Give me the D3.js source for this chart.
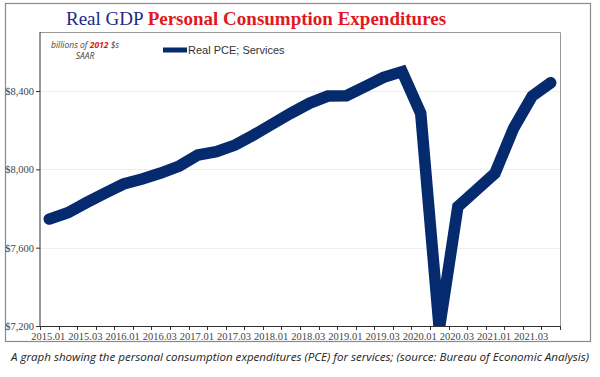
<!DOCTYPE html>
<html>
<head>
<meta charset="utf-8">
<script src="https://cdn.jsdelivr.net/npm/d3@7"></script>
<style>
  body { margin: 0; background: #fff; }
  svg { display: block; }
</style>
</head>
<body>
<svg id="chart" width="600" height="377"></svg>
<script>
// Quarterly categories, 2015 Q1 .. 2021 Q4
const years = ["2015", "2016", "2017", "2018", "2019", "2020", "2021"];
const quarters = ["01", "02", "03", "04"];
const categories = years.flatMap((y) => quarters.map((q) => `${y}.${q}`));

// Real PCE, services (billions of 2012 $s, SAAR)
const pceServices = [
  7746, 7778, 7830, 7879, 7925, 7951, 7981, 8017,
  8073, 8090, 8124, 8175, 8231, 8286, 8337, 8374,
  8376, 8422, 8470, 8499, 8286, 7185, 7809, 7894,
  7980, 8209, 8374, 8442
];

const yTicks = [7200, 7600, 8000, 8400];

const svg = d3.select("#chart");

// plot area
const plot = { left: 40, right: 560, top: 32, bottom: 326 };

const x = d3
  .scaleBand()
  .domain(categories)
  .range([plot.left, plot.right])
  .padding(0);

const y = d3.scaleLinear().domain([7200, 8400]).range([326, 91]);

// outer frame
svg
  .append("rect")
  .attr("x", 5.5)
  .attr("y", 3.5)
  .attr("width", 585)
  .attr("height", 338)
  .attr("fill", "#fff")
  .attr("stroke", "#8a8a8a")
  .attr("stroke-width", 1.2);

// plot area border (top / right)
svg
  .append("path")
  .attr("d", `M${plot.left},${plot.top + 0.5}H${plot.right + 0.5}V${plot.bottom}`)
  .attr("fill", "none")
  .attr("stroke", "#9a9a9a")
  .attr("stroke-width", 1);

// gridlines
svg
  .append("g")
  .selectAll("line")
  .data(yTicks.slice(1))
  .join("line")
  .attr("x1", plot.left)
  .attr("x2", plot.right)
  .attr("y1", (d) => Math.round(y(d)) + 0.5)
  .attr("y2", (d) => Math.round(y(d)) + 0.5)
  .attr("stroke", "#efefef");

// y axis
const yAxis = svg
  .append("g")
  .attr("transform", `translate(${plot.left},0)`)
  .call(
    d3
      .axisLeft(y)
      .tickValues(yTicks)
      .tickSize(4)
      .tickPadding(2)
      .tickFormat((d) => "$" + d3.format(",")(d))
  );
yAxis.select(".domain").attr("d", `M0,${plot.top}V${plot.bottom}`).attr("stroke", "#333");
yAxis.selectAll(".tick line").attr("stroke", "#333");
yAxis
  .selectAll("text")
  .attr("fill", "#444")
  .style("font-family", "'Liberation Serif', serif")
  .style("font-size", "10.5px");

// x axis: tick between every quarter, label every second quarter
const xAxis = svg
  .append("g")
  .attr("transform", `translate(0,${plot.bottom})`);
xAxis
  .selectAll(".qtick")
  .data(categories.concat(["end"]))
  .join("line")
  .attr("class", "qtick")
  .attr("x1", (d, i) => Math.round(plot.left + i * x.bandwidth()) + 0.5)
  .attr("x2", (d, i) => Math.round(plot.left + i * x.bandwidth()) + 0.5)
  .attr("y1", 0)
  .attr("y2", 4)
  .attr("stroke", "#333");
xAxis
  .selectAll(".qlabel")
  .data(categories.filter((d, i) => i % 2 === 0))
  .join("text")
  .attr("class", "qlabel")
  .attr("x", (d) => x(d) + x.bandwidth() / 2 - 1)
  .attr("y", 14)
  .attr("text-anchor", "middle")
  .attr("fill", "#444")
  .style("font-family", "'Liberation Serif', serif")
  .style("font-size", "10.5px")
  .text((d) => d);

// clip to plot area
svg
  .append("clipPath")
  .attr("id", "plot-clip")
  .append("rect")
  .attr("x", plot.left)
  .attr("y", plot.top)
  .attr("width", plot.right - plot.left)
  .attr("height", plot.bottom - plot.top);

const line = d3
  .line()
  .x((d, i) => x(categories[i]) + x.bandwidth() / 2)
  .y((d) => y(d));

svg
  .append("path")
  .datum(pceServices)
  .attr("clip-path", "url(#plot-clip)")
  .attr("d", line)
  .attr("fill", "none")
  .attr("stroke", "#062a6e")
  .attr("stroke-width", 11.5)
  .attr("stroke-linejoin", "miter")
  .attr("stroke-linecap", "round");

// x axis line above the series
svg
  .append("line")
  .attr("x1", plot.left)
  .attr("x2", plot.right)
  .attr("y1", plot.bottom + 0.5)
  .attr("y2", plot.bottom + 0.5)
  .attr("stroke", "#333");

// title
const title = svg
  .append("text")
  .attr("x", 66)
  .attr("y", 25)
  .style("font-family", "'Liberation Serif', serif")
  .style("font-size", "19px");
title.append("tspan").attr("fill", "#1d2b86").text("Real GDP ");
title
  .append("tspan")
  .attr("fill", "#e0191e")
  .attr("font-weight", "bold")
  .text("Personal Consumption Expenditures");

// units note
const units = svg
  .append("text")
  .attr("x", 85)
  .attr("y", 48)
  .attr("text-anchor", "middle")
  .attr("fill", "#444")
  .style("font-family", "'Open Sans', sans-serif")
  .style("font-style", "italic")
  .style("font-size", "8.5px");
units.append("tspan").text("billions of ");
units.append("tspan").attr("fill", "#e0191e").attr("font-weight", "bold").text("2012");
units.append("tspan").text(" $s");
svg
  .append("text")
  .attr("x", 85)
  .attr("y", 59)
  .attr("text-anchor", "middle")
  .attr("fill", "#444")
  .style("font-family", "'Open Sans', sans-serif")
  .style("font-style", "italic")
  .style("font-size", "8.5px")
  .text("SAAR");

// legend
svg
  .append("line")
  .attr("x1", 163)
  .attr("x2", 187)
  .attr("y1", 50)
  .attr("y2", 50)
  .attr("stroke", "#062a6e")
  .attr("stroke-width", 5);
svg
  .append("text")
  .attr("x", 188)
  .attr("y", 54)
  .attr("fill", "#333")
  .style("font-family", "'Liberation Sans', Arial, sans-serif")
  .style("font-size", "11px")
  .text("Real PCE; Services");

// caption
svg
  .append("text")
  .attr("x", 11)
  .attr("y", 361)
  .attr("textLength", 578)
  .attr("lengthAdjust", "spacingAndGlyphs")
  .attr("fill", "#222")
  .style("font-family", "'Open Sans', sans-serif")
  .style("font-style", "italic")
  .style("font-size", "11.5px")
  .text(
    "A graph showing the personal consumption expenditures (PCE) for services; (source: Bureau of Economic Analysis)"
  );
</script>
</body>
</html>
